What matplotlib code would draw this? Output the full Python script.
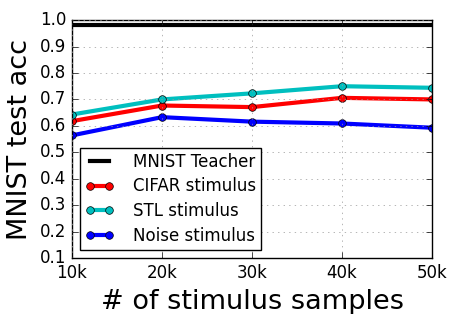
import matplotlib
matplotlib.use("Agg")
import matplotlib.pyplot as plt

plt.style.use("classic")

# data
samples = [10, 20, 30, 40, 50]
tick_labels = ["10k", "20k", "30k", "40k", "50k"]
teacher_acc = 0.981
cifar_acc = [0.618, 0.677, 0.671, 0.706, 0.700]
stl_acc = [0.643, 0.700, 0.723, 0.750, 0.744]
noise_acc = [0.564, 0.633, 0.616, 0.609, 0.593]

fig = plt.figure(figsize=(4.5, 3.14), dpi=100, facecolor="white")
ax = fig.add_axes([0.16, 0.178, 0.80, 0.758])

ax.plot([samples[0], samples[-1]], [teacher_acc, teacher_acc], color="black",
        linewidth=3, label="MNIST Teacher")
ax.plot(samples, cifar_acc, "o-", color="red", linewidth=3, markersize=5.5,
        label="CIFAR stimulus")
ax.plot(samples, stl_acc, "o-", color="c", linewidth=3, markersize=5.5,
        label="STL stimulus")
ax.plot(samples, noise_acc, "o-", color="blue", linewidth=3, markersize=5.5,
        label="Noise stimulus")

ax.set_xlim(10, 50)
ax.set_ylim(0.1, 1.0)
ax.set_xticks(samples)
ax.set_xticklabels(tick_labels)
ax.set_yticks([0.1, 0.2, 0.3, 0.4, 0.5, 0.6, 0.7, 0.8, 0.9, 1.0])
ax.tick_params(labelsize=12)
ax.grid(True, color="0.6", linestyle=":")

ax.set_xlabel("# of stimulus samples", fontsize=19.5)
ax.set_ylabel("MNIST test acc", fontsize=19.5)
ax.legend(loc="lower left", fontsize=12, numpoints=2, labelspacing=0.4,
          borderpad=0.3, handlelength=1.7, handletextpad=1.15)

fig.savefig("out.png", dpi=100, facecolor="white")
